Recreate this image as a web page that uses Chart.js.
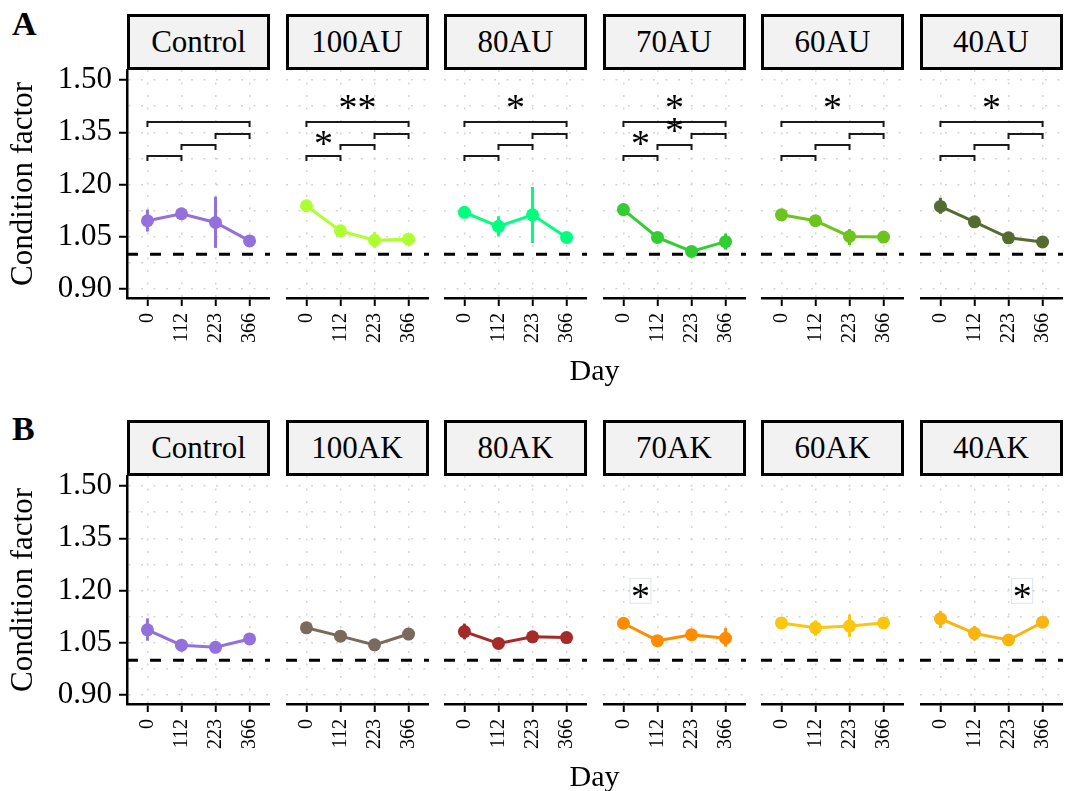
<!DOCTYPE html>
<html>
<head>
<meta charset="utf-8">
<script src="https://cdn.jsdelivr.net/npm/chart.js@4/dist/chart.umd.min.js"></script>
<style>
body { margin: 0; background: #fff; width: 1065px; height: 791px; position: relative; overflow: hidden; font-family: "Liberation Serif", serif; }
canvas { position: absolute; }
.strip { position: absolute; box-sizing: border-box; border: 3px solid #000; background: #f2f2f2; font-size: 31px; display: flex; align-items: center; justify-content: center; }
.tag { position: absolute; font-weight: bold; font-size: 34px; line-height: 1; }
.xtitle { position: absolute; width: 200px; text-align: center; font-size: 30px; line-height: 1; }
</style>
</head>
<body>
<script>
const days = ['0', '112', '223', '366'];
const yTicks = [0.90, 1.05, 1.20, 1.35, 1.50];
const refLine = 1.00;

const groupsA = ['Control', '100AU', '80AU', '70AU', '60AU', '40AU'];
const colorsA = ['#9370DB', '#ADFF2F', '#00FF7F', '#32CD32', '#6CC41C', '#556B2F'];
const meansA = [
  [1.096, 1.116, 1.091, 1.038],
  [1.139, 1.067, 1.040, 1.043],
  [1.120, 1.080, 1.113, 1.048],
  [1.128, 1.048, 1.008, 1.036],
  [1.113, 1.096, 1.051, 1.049],
  [1.137, 1.093, 1.047, 1.035]
];
const lowA = [
  [1.065, 1.108, 1.018, 1.033],
  [1.132, 1.062, 1.018, 1.038],
  [1.113, 1.051, 1.032, 1.043],
  [1.109, 1.043, 1.003, 1.013],
  [1.108, 1.091, 1.026, 1.044],
  [1.116, 1.088, 1.042, 1.030]
];
const highA = [
  [1.128, 1.124, 1.165, 1.043],
  [1.146, 1.072, 1.064, 1.048],
  [1.127, 1.109, 1.193, 1.053],
  [1.145, 1.053, 1.013, 1.059],
  [1.118, 1.101, 1.072, 1.054],
  [1.162, 1.098, 1.052, 1.040]
];

const groupsB = ['Control', '100AK', '80AK', '70AK', '60AK', '40AK'];
const colorsB = ['#9370DB', '#7B6A5C', '#A52A2A', '#FF8C00', '#FBC70E', '#FAB40F'];
const meansB = [
  [1.087, 1.043, 1.037, 1.061],
  [1.093, 1.069, 1.044, 1.075],
  [1.082, 1.048, 1.067, 1.065],
  [1.106, 1.056, 1.073, 1.063],
  [1.107, 1.093, 1.098, 1.107],
  [1.119, 1.077, 1.058, 1.109]
];
const lowB = [
  [1.056, 1.025, 1.032, 1.056],
  [1.088, 1.060, 1.039, 1.070],
  [1.060, 1.043, 1.062, 1.060],
  [1.101, 1.051, 1.068, 1.039],
  [1.102, 1.070, 1.067, 1.102],
  [1.092, 1.056, 1.053, 1.104]
];
const highB = [
  [1.120, 1.057, 1.042, 1.066],
  [1.098, 1.078, 1.049, 1.080],
  [1.105, 1.053, 1.072, 1.070],
  [1.111, 1.061, 1.078, 1.092],
  [1.112, 1.114, 1.131, 1.112],
  [1.142, 1.098, 1.063, 1.114]
];

// comparison brackets (row A): from day index, to day index, height
const bracketFrom = [0, 2, 1, 0];
const bracketTo = [3, 3, 2, 1];
const bracketY = [1.378, 1.346, 1.313, 1.282];

// significance labels: [x index, y, text]
const starsA = [
  [],
  [[1.5, 1.437, '**'], [0.5, 1.334, '*']],
  [[1.5, 1.437, '*']],
  [[1.5, 1.437, '*'], [1.5, 1.370, '*'], [0.5, 1.333, '*']],
  [[1.5, 1.437, '*']],
  [[1.5, 1.437, '*']]
];
const starsB = [[], [], [], [[0.5, 1.199, '*']], [], [[2.4, 1.199, '*']]];

Chart.defaults.font.family = '"Liberation Serif", serif';
Chart.defaults.color = '#000';

const panelLeft = [127, 285.5, 444, 602.5, 761, 919.5];
const panelW = 143;
const panelH = 228;
const bottomH = 60;
const topPad = 20;
const rowTop = [70, 476];
const gridColor = '#d6d6d6';
const starSize = 38;

const isMajor = v => yTicks.some(t => Math.abs(t - v) < 1e-6);

const panelDeco = {
  id: 'panelDeco',
  beforeDatasetsDraw(chart, args, o) {
    const { ctx, chartArea: a, scales: { y } } = chart;
    const py = y.getPixelForValue(refLine);
    ctx.save();
    ctx.strokeStyle = '#000';
    ctx.lineWidth = 3;
    ctx.setLineDash([11, 12]);
    ctx.beginPath();
    ctx.moveTo(a.left, py);
    ctx.lineTo(a.right, py);
    ctx.stroke();
    ctx.restore();
  },
  afterDatasetsDraw(chart, args, o) {
    const { ctx, scales: { x, y } } = chart;
    ctx.save();
    ctx.strokeStyle = o.color;
    ctx.lineWidth = 3;
    o.low.forEach((lo, i) => {
      const px = x.getPixelForValue(i);
      ctx.beginPath();
      ctx.moveTo(px, y.getPixelForValue(lo));
      ctx.lineTo(px, y.getPixelForValue(o.high[i]));
      ctx.stroke();
    });

    if (o.brackets) {
      ctx.strokeStyle = '#1a1a1a';
      ctx.lineWidth = 2;
      bracketY.forEach((b, i) => {
        const x1 = x.getPixelForValue(bracketFrom[i]);
        const x2 = x.getPixelForValue(bracketTo[i]);
        const py = Math.round(y.getPixelForValue(b));
        ctx.beginPath();
        ctx.moveTo(x1, py + 5);
        ctx.lineTo(x1, py);
        ctx.lineTo(x2, py);
        ctx.lineTo(x2, py + 5);
        ctx.stroke();
      });
    }

    ctx.font = starSize + 'px "Liberation Serif"';
    ctx.textAlign = 'center';
    ctx.textBaseline = 'alphabetic';
    o.stars.forEach(([sx, sy, t]) => {
      const px = x.getPixelForValue(sx);
      const py = y.getPixelForValue(sy);
      if (o.boxed) {
        ctx.fillStyle = '#fff';
        ctx.fillRect(px - 10, py - 12, 20, 24);
        ctx.strokeStyle = 'rgba(185,195,220,0.45)';
        ctx.lineWidth = 1;
        ctx.strokeRect(px - 10.5, py - 12.5, 21, 25);
      }
      ctx.fillStyle = '#000';
      ctx.fillText(t, px, py + starSize * 0.47);
    });
    ctx.restore();
  }
};

function makePanel(row, col, name, color, means, low, high, stars) {
  const first = col === 0;
  const top = rowTop[row];

  const strip = document.createElement('div');
  strip.className = 'strip';
  strip.style.left = panelLeft[col] + 'px';
  strip.style.top = (top - 56) + 'px';
  strip.style.width = panelW + 'px';
  strip.style.height = '56px';
  strip.textContent = name;
  document.body.appendChild(strip);

  const canvas = document.createElement('canvas');
  const left = first ? 0 : panelLeft[col];
  const w = first ? panelLeft[col] + panelW : panelW;
  canvas.width = w;
  canvas.height = topPad + panelH + bottomH;
  canvas.style.left = left + 'px';
  canvas.style.top = (top - topPad) + 'px';
  document.body.appendChild(canvas);

  new Chart(canvas, {
    type: 'line',
    data: {
      datasets: [{
        data: means.map((v, i) => ({ x: i, y: v })),
        borderColor: color,
        backgroundColor: color,
        borderWidth: 3,
        pointRadius: 6.5,
        pointBorderWidth: 0,
        pointBackgroundColor: color,
        tension: 0
      }]
    },
    options: {
      responsive: false,
      animation: false,
      devicePixelRatio: 1,
      layout: { padding: { top: topPad, left: 0, right: 0, bottom: 0 }, autoPadding: false },
      plugins: {
        legend: { display: false },
        tooltip: { enabled: false },
        panelDeco: { color, low, high, stars, brackets: row === 0, boxed: row === 1 }
      },
      scales: {
        x: {
          type: 'linear',
          min: -0.6,
          max: 3.6,
          afterBuildTicks: s => { s.ticks = days.map((d, i) => ({ value: i })); },
          afterFit: s => { s.height = bottomH; s.paddingLeft = 0; s.paddingRight = 0; },
          ticks: {
            callback: v => days[v],
            autoSkip: false,
            minRotation: 90,
            maxRotation: 90,
            padding: 7,
            color: '#000',
            font: { size: 20 }
          },
          grid: { color: gridColor, lineWidth: 1.5, tickColor: '#000', tickLength: 8, tickWidth: 2 },
          border: { color: '#000', width: 2.5, dash: [2, 10.5] }
        },
        y: {
          min: 0.8742,
          max: 1.5287,
          afterBuildTicks: s => {
            const vals = [];
            yTicks.forEach((t, i) => {
              vals.push({ value: t });
              if (i < yTicks.length - 1) vals.push({ value: (t + yTicks[i + 1]) / 2 });
            });
            s.ticks = vals;
          },
          afterFit: s => { s.width = first ? panelLeft[0] : 0; s.paddingTop = 0; s.paddingBottom = 0; },
          ticks: {
            display: first,
            autoSkip: false,
            callback: v => isMajor(v) ? v.toFixed(2) : '',
            padding: 7,
            color: '#000',
            font: { size: 31 }
          },
          grid: {
            color: gridColor,
            lineWidth: 1.5,
            drawTicks: first,
            tickLength: 8,
            tickWidth: 2,
            tickColor: c => isMajor(c.tick.value) ? '#000' : 'rgba(0,0,0,0)'
          },
          border: { display: first, color: '#000', width: 2.5, dash: [2, 10.5] },
          title: {
            display: first,
            text: 'Condition factor',
            font: { size: 31 },
            color: '#000',
            padding: { top: 5, bottom: 0 }
          }
        }
      }
    },
    plugins: [panelDeco]
  });
}

groupsA.forEach((g, i) => makePanel(0, i, g, colorsA[i], meansA[i], lowA[i], highA[i], starsA[i]));
groupsB.forEach((g, i) => makePanel(1, i, g, colorsB[i], meansB[i], lowB[i], highB[i], starsB[i]));

[['A', 6.5], ['B', 412]].forEach(([t, top]) => {
  const d = document.createElement('div');
  d.className = 'tag';
  d.style.left = '12px';
  d.style.top = top + 'px';
  d.textContent = t;
  document.body.appendChild(d);
});
[355, 761].forEach(top => {
  const d = document.createElement('div');
  d.className = 'xtitle';
  d.style.left = '494.5px';
  d.style.top = top + 'px';
  d.textContent = 'Day';
  document.body.appendChild(d);
});
</script>
</body>
</html>
